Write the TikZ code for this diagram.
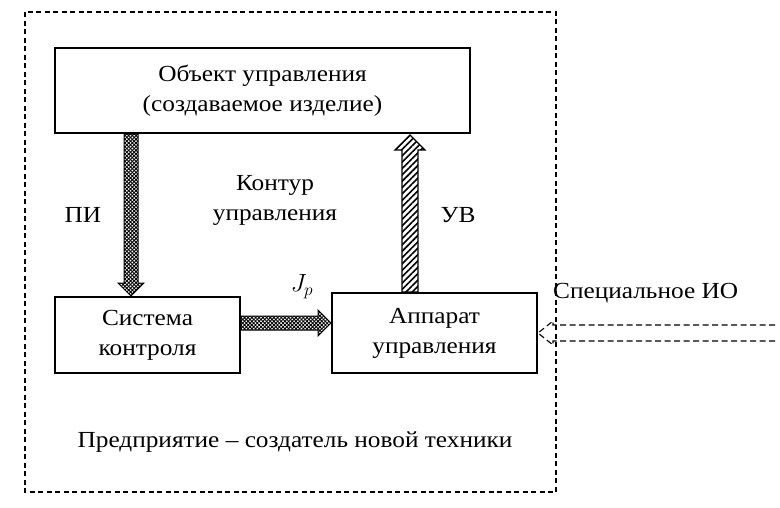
\documentclass[tikz,border=0pt]{standalone}
\usepackage{fontspec}
\setmainfont[FakeStretch=1.1]{Liberation Serif}
\usetikzlibrary{patterns,patterns.meta}
\begin{document}
\begin{tikzpicture}[x=1pt,y=-1pt,
  blk/.style={draw,line width=2.4pt,fill=white,align=center,font=\fontsize{23}{30}\selectfont,inner sep=0pt},
  lbl/.style={font=\fontsize{23}{30}\selectfont,align=center,inner sep=0pt},
  frame/.style={draw,line width=1.1pt,dash pattern=on 5pt off 3.5pt},
  pi/.style={draw,line width=1pt,pattern={Hatch[angle=45,distance=2.6pt,line width=0.9pt]}},
  uv/.style={draw,line width=1.2pt,pattern={Lines[angle=45,distance=4.5pt,line width=1.6pt]}}]
\useasboundingbox (0,0) rectangle (780,507);
\draw[frame] (25,12) rectangle (556,492);
\node[blk,minimum width=415pt,minimum height=85pt] (obj) at (262.5,90.5) {Объект управления\\(создаваемое изделие)};
\node[blk,minimum width=185pt,minimum height=76pt] (sk) at (147.5,335) {Система\\контроля};
\node[blk,minimum width=205pt,minimum height=80pt] (au) at (434.5,333) {Аппарат\\управления};
% PI arrow (down)
\draw[pi] (124,134) -- (138,134) -- (138,283) -- (144,283) -- (131,296) -- (118,283) -- (124,283) -- cycle;
% UV arrow (up)
\draw[uv] (402,292) -- (418,292) -- (418,150) -- (425,150) -- (410,135) -- (395,150) -- (402,150) -- cycle;
% horizontal arrow
\draw[pi] (241,316) -- (318,316) -- (318,310) -- (331,323) -- (318,336) -- (318,330) -- (241,330) -- cycle;
% dashed special IO arrow
\draw[line width=1.1pt,dash pattern=on 6pt off 3.5pt] (775,325) -- (553,325) -- (553,321) -- (538,333) -- (553,345) -- (553,341) -- (775,341);
\node[lbl] (lpi) at (83,215) {ПИ};
\node[lbl] (lk) at (275,200) {Контур\\управления};
\node[lbl] (luv) at (458,215) {УВ};
\node[lbl] (ljp) at (302,287) {$J_p$};
\node[lbl,anchor=west] (lsio) at (553,293) {Специальное ИО};
\node[lbl] (lpr) at (295,442) {Предприятие – создатель новой техники};
\end{tikzpicture}
\end{document}
